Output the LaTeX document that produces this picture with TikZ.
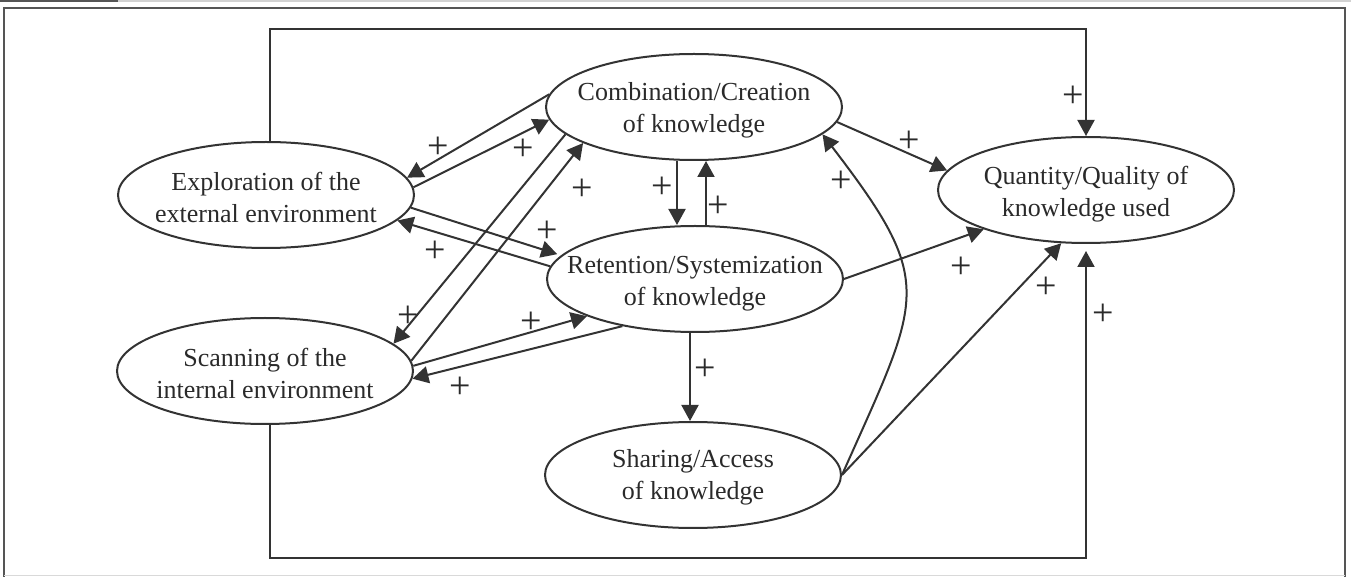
\documentclass[tikz,border=0pt]{standalone}
\usepackage{fontspec}
\setmainfont{Liberation Serif}
\usetikzlibrary{arrows.meta,shapes.geometric,calc}
\definecolor{ink}{HTML}{333333}
\definecolor{txt}{HTML}{2A2A2A}
\definecolor{framec}{HTML}{555555}
\begin{document}
\begin{tikzpicture}[x=0.5pt,y=-0.5pt,
  ell/.style={ellipse, draw=ink, line width=1pt, minimum width=148pt, minimum height=53pt, inner sep=0pt},
  lbl/.style={align=center, font=\fontsize{13}{16}\selectfont, text=txt, inner sep=0pt},
  conn/.style={draw=ink, line width=1pt, -{Triangle[length=8pt,width=8.5pt]}},
  pl/.style={font=\fontsize{19}{19}\selectfont, text=txt, inner sep=0pt}]
\useasboundingbox (0,0) rectangle (1351,577);
% header strip and frame
\fill[gray!35] (118,0.5) rectangle (1351,1.8);
\fill[framec] (0,0) rectangle (118,2.5);
\draw[framec, line width=1.1pt] (4,577) -- (4,8) -- (1345,8) -- (1345,577);
\draw[gray!30, line width=0.5pt] (4,575) -- (1345,575);

% ellipses
\node[ell] (E) at (266,195) {};
\node[lbl] (Et) at (266,197) {Exploration of the\\external environment};
\node[ell] (S) at (265,371) {};
\node[lbl] (St) at (265,373) {Scanning of the\\internal environment};
\node[ell] (C) at (694,107) {};
\node[lbl] (Ct) at (694,110) {Combination/Creation\\of knowledge};
\node[ell] (R) at (695,279) {};
\node[lbl] (Rt) at (695,284) {Retention/Systemization\\of knowledge};
\node[ell] (Sh) at (693,475) {};
\node[lbl] (Sht) at (693,477) {Sharing/Access\\of knowledge};
\node[ell] (Q) at (1086,190) {};
\node[lbl] (Qt) at (1086,194) {Quantity/Quality of\\knowledge used};

% connectors
\draw[conn] (C.175) -- (E.7);
\draw[conn] (E.3) -- (C.185);
\draw[conn] (C.192) -- (S.12);
\draw[conn] (S.4) -- (C.198);
\draw[conn, shorten >=2pt] (E.-5) -- (R.170);
\draw[conn] (R.175) -- (E.-11);
\draw[conn] (S.2) -- (R.199);
\draw[conn] (R.213) -- (S.-3);
\draw[conn] ([xshift=-8.5pt]C.south) -- ([xshift=-9pt]R.north);
\draw[conn] ([xshift=5.5pt]R.north) -- ([xshift=6pt]C.south);
\draw[conn] ([xshift=-2.5pt]R.south) -- ([xshift=-1.5pt]Sh.north);
\draw[conn] (C.-6) -- (Q.172);
\draw[conn] (R.east) -- (Q.201);
\draw[conn] (Sh.east) -- (Q.245);
\draw[conn] (Sh.east) .. controls +(80,-180) and +(115,150) .. (C.-12);

\coordinate (topy) at (0,29);
\coordinate (boty) at (0,558);
\coordinate (Etop) at ([xshift=2pt]E.north);
\coordinate (Sbot) at ([xshift=2.5pt]S.south);
\draw[conn] (Etop) -- (Etop |- topy) -| (Q.north);
\draw[conn, shorten >=3.5pt] (Sbot) -- (Sbot |- boty) -| (Q.south);

% plus signs
\node[pl] (p1) at (438,148) {+};
\node[pl] (p2) at (523,150) {+};
\node[pl] (p3) at (582,190) {+};
\node[pl] (p4) at (408,317) {+};
\node[pl] (p5) at (547,232) {+};
\node[pl] (p6) at (435,252) {+};
\node[pl] (p7) at (531,323) {+};
\node[pl] (p8) at (460,388) {+};
\node[pl] (p9) at (662,188) {+};
\node[pl] (p10) at (718,207) {+};
\node[pl] (p11) at (705,370) {+};
\node[pl] (p12) at (909,142) {+};
\node[pl] (p13) at (961,268) {+};
\node[pl] (p14) at (1046,288) {+};
\node[pl] (p15) at (841,182) {+};
\node[pl] (p16) at (1073,97) {+};
\node[pl] (p17) at (1103,315) {+};
\end{tikzpicture}
\end{document}
